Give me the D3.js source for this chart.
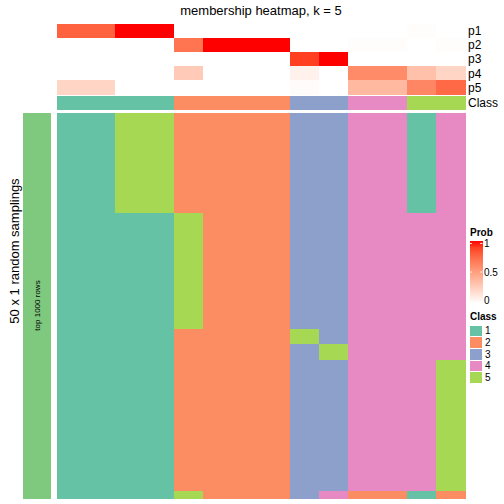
<!DOCTYPE html>
<html><head><meta charset="utf-8">
<script src="https://cdn.jsdelivr.net/npm/d3@7"></script>
<style>body{margin:0;background:#fff}svg{display:block;font-family:"Liberation Sans",Arial,Helvetica,sans-serif}rect{shape-rendering:crispEdges}</style>
</head><body>
<script>
// ---- data ----
const samples = d3.range(1, 15).map(i => "s" + i);
const probNames = ["p1", "p2", "p3", "p4", "p5"];
const p1 = [0.78,0.78,1,1,0,0,0,0,0,0,0,0,0.01,0];
const p2 = [0,0,0,0,0.7,1,1,1,0,0,0.01,0.01,0,0.01];
const p3 = [0,0,0,0,0,0,0,0,0.9,1,0,0,0,0];
const p4 = [0,0,0,0,0.28,0,0,0,0.07,0,0.6,0.6,0.33,0.22];
const p5 = [0.22,0.22,0,0,0,0,0,0,0.02,0,0.37,0.37,0.62,0.75];
const consensusClass = [1,1,1,1,2,2,2,2,3,3,4,4,5,5];
// one string per random sampling (row), one digit per sample (column)
const samplingRows = [].concat(
  Array(13).fill("11552222334414"),
  Array(15).fill("11115222334444"),
  Array(2).fill("11112222534444"),
  Array(2).fill("11112222354444"),
  Array(17).fill("11112222334445"),
  ["11115222342212"]
);
const classLabels = ["1","2","3","4","5"];
const classColors = ["#66C2A5","#FC8D62","#8DA0CB","#E78AC3","#A6D854"];
const probTicks = [0, 0.5, 1];

// ---- drawing ----
const W = 504, H = 504;
const svg = d3.select("body").append("svg").attr("width", W).attr("height", H);
const x = d3.scaleBand().domain(d3.range(samples.length)).range([57, 465]);
const pY = d3.scaleBand().domain(probNames).range([23.5, 94.5]);
const rowY = d3.scaleBand().domain(d3.range(samplingRows.length)).range([113, 498.5]);
const probColor = d3.scaleLinear().domain([0, 1]).range(["#ffffff", "#ff0000"]).interpolate(d3.interpolateLab);
const classColor = d3.scaleOrdinal().domain([1,2,3,4,5]).range(classColors);

svg.append("text").attr("x", 261).attr("y", 15).attr("text-anchor", "middle")
  .attr("font-size", 13).text("membership heatmap, k = 5");

const probs = [p1, p2, p3, p4, p5];
probs.forEach((arr, r) => {
  svg.append("g").selectAll("rect").data(arr).join("rect")
    .attr("x", (d, i) => x(i)).attr("width", x.bandwidth() + 0.5)
    .attr("y", pY(probNames[r])).attr("height", pY.bandwidth() + 0.5)
    .attr("fill", d => probColor(d));
  svg.append("text").attr("x", 468).attr("y", pY(probNames[r]) + pY.bandwidth() / 2)
    .attr("dy", "0.36em").attr("font-size", 12).text(probNames[r]);
});
// class annotation
svg.append("g").selectAll("rect").data(consensusClass).join("rect")
  .attr("x", (d, i) => x(i)).attr("width", x.bandwidth() + 0.5)
  .attr("y", 96).attr("height", 13.5).attr("fill", d => classColor(d));
svg.append("text").attr("x", 468).attr("y", 102.7).attr("dy", "0.36em").attr("font-size", 12).text("Class");

// main heatmap
const cells = [];
samplingRows.forEach((s, r) => s.split("").forEach((c, i) => cells.push({r, i, c: +c})));
svg.append("g").selectAll("rect").data(cells).join("rect")
  .attr("x", d => x(d.i)).attr("width", x.bandwidth() + 0.5)
  .attr("y", d => rowY(d.r)).attr("height", rowY.bandwidth() + 0.5)
  .attr("fill", d => classColor(d.c));

// left annotation bar
svg.append("rect").attr("x", 23).attr("y", 113).attr("width", 28).attr("height", 385.5).attr("fill", "#7FC97F");
svg.append("text").attr("transform", "translate(37,305.5) rotate(-90)").attr("text-anchor", "middle")
  .attr("dy", "0.35em").attr("font-size", 8).text("top 1000 rows");
svg.append("text").attr("transform", "translate(14,251) rotate(-90)").attr("text-anchor", "middle")
  .attr("dy", "0.35em").attr("font-size", 13).text("50 x 1 random samplings");

// Prob legend
const defs = svg.append("defs");
const grad = defs.append("linearGradient").attr("id", "pg").attr("x1", 0).attr("y1", 1).attr("x2", 0).attr("y2", 0);
d3.range(0, 1.001, 0.1).forEach(t => grad.append("stop").attr("offset", t).attr("stop-color", probColor(t)));
svg.append("text").attr("x", 470).attr("y", 236).attr("font-size", 10).attr("font-weight", "bold").text("Prob");
const legY = d3.scaleLinear().domain([0, 1]).range([300.5, 243.5]);
svg.append("rect").attr("x", 469.5).attr("y", 241).attr("width", 13).attr("height", 62.5).attr("fill", "url(#pg)");
probTicks.filter(t => t > 0).forEach(t => {
  svg.append("line").attr("x1", 469.5).attr("x2", 472).attr("y1", legY(t)).attr("y2", legY(t)).attr("stroke", "#fff").attr("stroke-width", 0.8);
  svg.append("line").attr("x1", 480).attr("x2", 482.5).attr("y1", legY(t)).attr("y2", legY(t)).attr("stroke", "#fff").attr("stroke-width", 0.8);
});
svg.append("g").selectAll("text").data(probTicks).join("text")
  .attr("x", 484).attr("y", d => legY(d)).attr("dy", "0.36em").attr("font-size", 10).text(d => d);

// Class legend
svg.append("text").attr("x", 470).attr("y", 320).attr("font-size", 10).attr("font-weight", "bold").text("Class");
const lg = svg.append("g").selectAll("g").data(classLabels).join("g")
  .attr("transform", (d, i) => `translate(469,${325 + i * 11.67})`);
lg.append("rect").attr("width", 13).attr("height", 11.67).attr("fill", (d, i) => classColors[i])
  .attr("stroke", "#fff").attr("stroke-width", 1);
lg.append("text").attr("x", 16).attr("y", 5.8).attr("dy", "0.36em").attr("font-size", 10).text(d => d);
</script>
</body></html>
